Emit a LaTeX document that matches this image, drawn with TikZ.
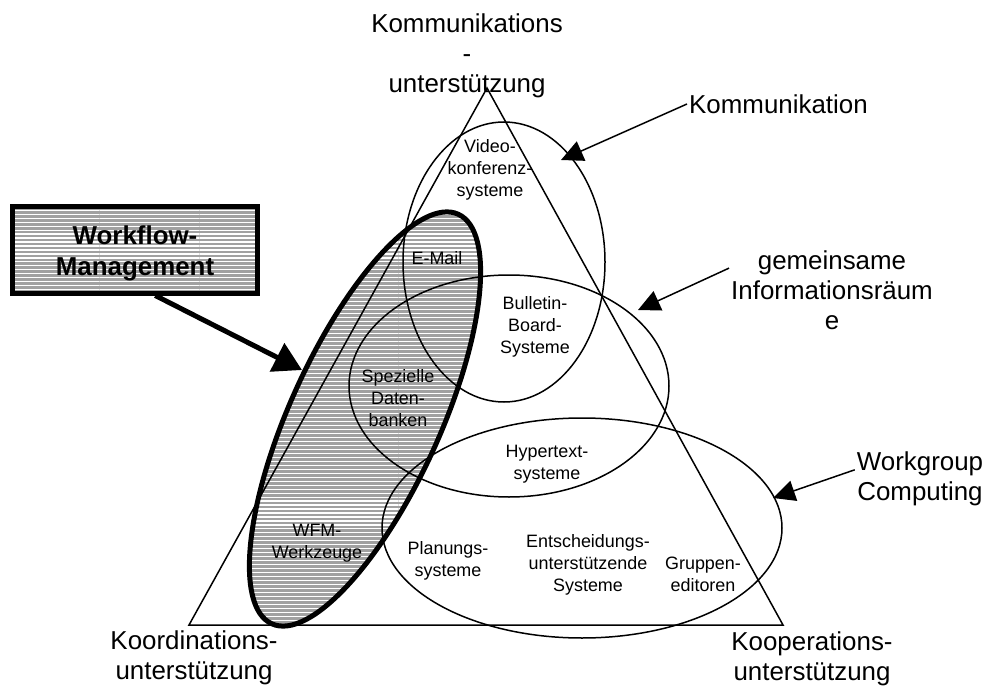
\documentclass[tikz,border=0pt]{standalone}
\usepackage{fontspec}
\setmainfont{Liberation Sans}
\usetikzlibrary{arrows.meta,patterns}
\pgfdeclarepatternformonly{hstripes}{\pgfpointorigin}{\pgfqpoint{100pt}{1.3pt}}{\pgfqpoint{100pt}{4pt}}{%
  \pgfsetlinewidth{1.1pt}%
  \pgfpathmoveto{\pgfqpoint{0pt}{0.65pt}}%
  \pgfpathlineto{\pgfqpoint{100pt}{0.65pt}}%
  \pgfusepath{stroke}}
\definecolor{stripegray}{gray}{0.63}
\begin{document}
\begin{tikzpicture}[x=1bp,y=-1bp,
  thinline/.style={line width=1.5bp},
  big/.style={font=\fontsize{26}{30}\selectfont, align=center, inner sep=2bp},
  small/.style={font=\fontsize{18}{22}\selectfont, align=center, inner sep=1bp},
  striped/.style={preaction={fill=stripegray}, pattern=hstripes, pattern color=white},
  lblarrow/.style={line width=1.5bp, -{Triangle[length=22bp,width=21bp]}},
  wfarrow/.style={line width=5bp, -{Triangle[length=28bp,width=31bp]}},
  ]
\useasboundingbox (0,0) rectangle (995,689);

% shaded workflow ellipse (fill)
\fill[striped, rotate around={65.5:(365,419)}] (365,419) ellipse [x radius=225, y radius=75];

% triangle
\coordinate (apex) at (487,88);
\coordinate (bl) at (189,625);
\coordinate (br) at (783,625);
\draw[thinline, line join=miter] (apex) -- (bl) -- (br) -- cycle;

% ellipses
\draw[thinline] (504,262) ellipse [x radius=101, y radius=140];
\draw[thinline] (509,386) ellipse [x radius=160, y radius=111];
\draw[thinline] (582,528) ellipse [x radius=200, y radius=110];

% workflow ellipse outline
\draw[line width=5bp, rotate around={65.5:(365,419)}] (365,419) ellipse [x radius=225, y radius=75];

% workflow box
\node[draw, line width=5bp, striped, minimum width=245bp, minimum height=86bp] (wf) at (135,250) {};
\node[font=\bfseries\fontsize{26}{31}\selectfont, align=center, inner sep=0pt] (wftext) at (135,253) {Workflow-\\Management};

% corner labels
\node[big] (top) at (467,56) {Kommunikations\\-\\unterstützung};
\node[big] (koord) at (194,658) {Koordinations-\\unterstützung};
\node[big] (koop) at (812,659) {Kooperations-\\unterstützung};

% side labels
\node[big, anchor=west] (kom) at (687,104) {Kommunikation};
\node[big] (gem) at (832,290) {gemeinsame\\Informationsräum\\e};
\node[big] (wgc) at (920,479) {Workgroup\\Computing};

% inner labels
\node[small] (video) at (490,170) {Video-\\konferenz-\\systeme};
\node[small] (email) at (437,258) {E-Mail};
\node[small] (bbs) at (535,327) {Bulletin-\\Board-\\Systeme};
\node[small] (spez) at (398,398) {Spezielle\\Daten-\\banken};
\node[small] (hyper) at (547,464) {Hypertext-\\systeme};
\node[small] (plan) at (448,561) {Planungs-\\systeme};
\node[small] (ents) at (588,565) {Entscheidungs-\\unterstützende\\Systeme};
\node[small] (grup) at (703,574) {Gruppen-\\editoren};
\node[small] (wfm) at (317,543) {WFM-\\Werkzeuge};

% arrow tips
\coordinate (komtip) at (561,160);
\coordinate (gemtip) at (638,310);
\coordinate (wgctip) at (773,498);
\coordinate (wftip) at (302,370);

\draw[lblarrow] (kom.west) -- (komtip);
\draw[lblarrow] (gem.168) -- (gemtip);
\draw[lblarrow] (wgc.172) -- (wgctip);
\draw[wfarrow] (wf.-66) -- (wftip);
\end{tikzpicture}
\end{document}
